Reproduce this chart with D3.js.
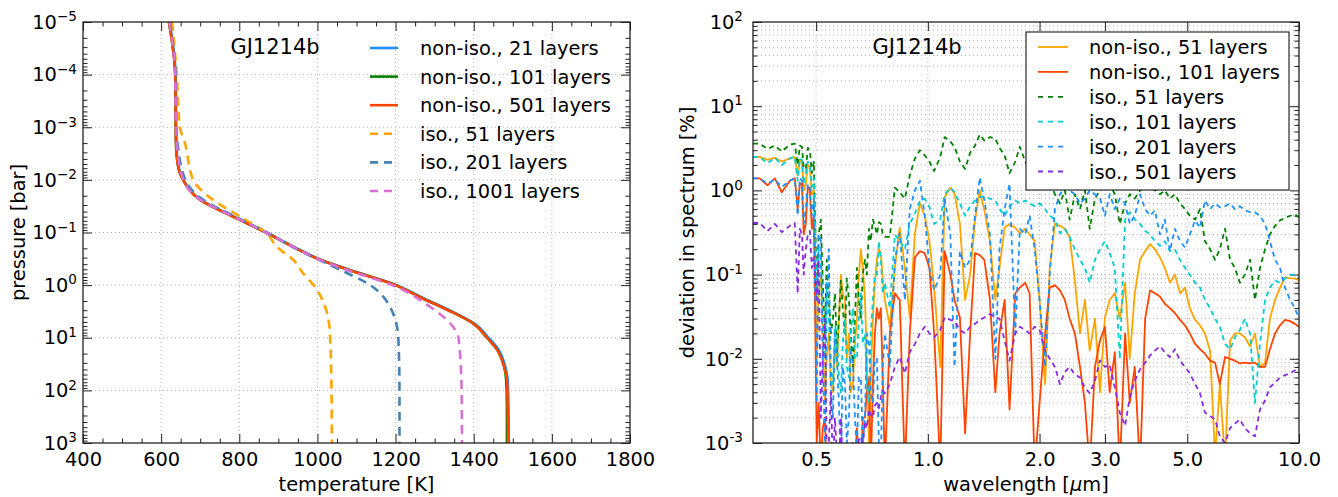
<!DOCTYPE html>
<html>
<head>
<meta charset="utf-8">
<script src="https://cdn.jsdelivr.net/npm/d3@7"></script>
<style>
  body { margin: 0; background: #fff; }
</style>
</head>
<body>
<svg id="chart" width="1338" height="497"></svg>
<script>
// ---------- left panel: temperature profiles (pressure in bar, temperature in K) ----------
const pNonIso = [1e-5, 1e-4, 2e-3, 5.8e-3, 0.01, 0.024, 0.05, 0.1, 0.2, 0.33, 0.5, 1, 1.7, 3, 5.5, 10, 17, 36, 63, 200, 1000];
const tNonIso21 = [622, 637, 639, 645, 657, 701, 786, 870, 947, 1009, 1078, 1203, 1266, 1338, 1404, 1438, 1464, 1481, 1487, 1489, 1490];
const tNonIso101 = [620, 636, 638, 644, 656, 700, 784, 868, 945, 1007, 1075, 1200, 1263, 1335, 1401, 1434, 1460, 1478, 1483, 1485, 1485];
const tNonIso501 = [620, 636, 638, 644, 656, 700, 784, 868, 945, 1007, 1075, 1200, 1263, 1335, 1401, 1434, 1460, 1478, 1485, 1487, 1488];

const pIso51 = [1e-5, 1e-4, 1e-3, 2e-3, 0.01, 0.024, 0.05, 0.1, 0.19, 0.33, 0.59, 1.09, 2.6, 8.2, 100, 1000];
const tIso51 = [628, 640, 648, 661, 682, 733, 802, 868, 897, 938, 963, 994, 1020, 1032, 1036, 1037];
const pIso201 = [1e-5, 1e-4, 1e-3, 2e-3, 0.01, 0.024, 0.05, 0.1, 0.2, 0.46, 1.0, 2.6, 10, 100, 1000];
const tIso201 = [622, 637, 639, 642, 662, 708, 790, 870, 943, 1045, 1135, 1186, 1207, 1210, 1210];
const pIso1001 = [1e-5, 1e-4, 1e-3, 2e-3, 0.01, 0.024, 0.05, 0.1, 0.2, 0.33, 0.5, 1, 2.6, 6.3, 10, 100, 1000];
const tIso1001 = [621, 636, 638, 640, 657, 701, 786, 868, 945, 1005, 1070, 1191, 1289, 1348, 1361, 1369, 1370];

const leftLabels = ["non-iso., 21 layers", "non-iso., 101 layers", "non-iso., 501 layers",
                    "iso., 51 layers", "iso., 201 layers", "iso., 1001 layers"];
const tempTicks = [400, 600, 800, 1000, 1200, 1400, 1600, 1800];
const pressTicks = [1e-5, 1e-4, 1e-3, 1e-2, 1e-1, 1e0, 1e1, 1e2, 1e3];

// ---------- right panel: deviation in spectrum [%] vs wavelength [um] ----------
const wavelength = [
  0.338, 0.352, 0.370, 0.387, 0.404, 0.425, 0.438,
  0.446, 0.452, 0.458, 0.463, 0.469, 0.475, 0.481, 0.487, 0.493,
  0.502, 0.508, 0.515, 0.521, 0.528, 0.534, 0.541, 0.548, 0.555, 0.562, 0.569, 0.576, 0.583, 0.590, 0.598, 0.605, 0.613,
  0.620, 0.628, 0.636, 0.644, 0.652, 0.660, 0.668, 0.677, 0.685, 0.694, 0.702, 0.711, 0.720, 0.729, 0.738, 0.747, 0.756, 0.766,
  0.790, 0.815, 0.840, 0.867, 0.894, 0.923, 0.952, 0.981, 1.01, 1.04,
  1.08, 1.11, 1.15, 1.18, 1.22, 1.26, 1.30, 1.34, 1.38, 1.42,
  1.47, 1.52, 1.56, 1.61, 1.66, 1.72, 1.77, 1.83, 1.88, 1.94,
  2.00, 2.07, 2.13, 2.20, 2.27, 2.34, 2.41, 2.49, 2.57, 2.65,
  2.73, 2.82, 2.91, 3.00, 3.09, 3.19, 3.29, 3.40, 3.50, 3.61,
  3.73, 3.85, 3.97, 4.09, 4.22, 4.35, 4.49, 4.63, 4.78, 4.93,
  5.08, 5.25, 5.41, 5.58, 5.76, 5.94, 6.12, 6.32, 6.52, 6.72,
  6.93, 7.15, 7.38, 7.61, 7.85, 8.10, 8.35, 8.62, 8.89, 9.17,
  9.46, 9.75, 10.0
];
const devNonIso51 = [
  2.5, 2.5, 2.3, 2.45, 2.2, 2.4, 2.5,
  1.5, 2.3, 2.2, 1.0, 1.2, 2.0, 1.9, 0.9, 1.0,
  0.01, 0.06, 0.1, 0.02, 0.003, 0.01, 0.02, 0.005, 0.004, 0.015, 0.008, 0.03, 0.1, 0.06, 0.05, 0.01, 0.02,
  0.004, 0.005, 0.015, 0.03, 0.1, 0.2, 0.12, 0.05, 0.01, 0.001, 0.006, 0.03, 0.08, 0.15, 0.2, 0.18, 0.09, 0.05,
  0.024, 0.12, 0.36, 0.12, 0.031, 0.31, 0.7, 0.5, 0.25, 0.07,
  0.008, 0.83, 1.08, 0.92, 0.4, 0.05, 0.1, 0.44, 1.0, 0.58,
  0.25, 0.05, 0.12, 0.36, 0.4, 0.36, 0.31, 0.35, 0.3, 0.25,
  0.05, 0.005, 0.12, 0.4, 0.38, 0.35, 0.28, 0.085, 0.02, 0.05,
  0.0125, 0.03, 0.004, 0.031, 0.05, 0.06, 0.03, 0.08, 0.01, 0.06,
  0.15, 0.19, 0.23, 0.2, 0.16, 0.12, 0.08, 0.1, 0.06, 0.07,
  0.04, 0.029, 0.025, 0.02, 0.0125, 0.0007, 0.005, 0.0006, 0.0165, 0.02,
  0.02, 0.018, 0.014, 0.02, 0.008, 0.009, 0.03, 0.05, 0.07, 0.093,
  0.09, 0.09, 0.085
];
const devNonIso101 = [
  1.39, 1.39, 1.15, 1.39, 0.95, 1.3, 1.39,
  0.6, 1.2, 1.2, 0.3, 0.4, 1.1, 1.0, 0.35, 0.5,
  0.001, 0.003, 0.0005, 0.0015, 0.002, 0.0005, 0.0005, 0.001, 0.001, 0.0005, 0.0005, 0.0008, 0.0006, 0.0005, 0.0005, 0.0009, 0.0008,
  0.0005, 0.001, 0.0005, 0.0015, 0.0005, 0.0005, 0.002, 0.002, 0.004, 0.006, 0.0005, 0.005, 0.02, 0.04, 0.03, 0.04, 0.006, 0.0005,
  0.02, 0.06, 0.05, 0.0005, 0.02, 0.16, 0.19, 0.18, 0.12, 0.02,
  0.0005, 0.19, 0.1, 0.05, 0.031, 0.0013, 0.02, 0.18, 0.17, 0.15,
  0.05, 0.004, 0.02, 0.05, 0.0025, 0.06, 0.07, 0.08, 0.06, 0.0005,
  0.003, 0.02, 0.07, 0.075, 0.065, 0.05, 0.03, 0.02, 0.008, 0.003,
  0.0005, 0.008, 0.0165, 0.024, 0.004, 0.012, 0.0005, 0.02, 0.003, 0.008,
  0.0005, 0.03, 0.065, 0.06, 0.055, 0.045, 0.04, 0.035, 0.029, 0.025,
  0.02, 0.015, 0.013, 0.0115, 0.0095, 0.009, 0.005, 0.0105, 0.01, 0.0095,
  0.0088, 0.009, 0.0088, 0.009, 0.008, 0.008, 0.013, 0.02, 0.025, 0.029,
  0.028, 0.026, 0.024
];
const devIso51 = [
  3.6, 3.6, 3.1, 3.4, 2.9, 3.5, 3.6,
  2.0, 3.4, 3.3, 1.8, 1.8, 3.2, 3.0, 1.6, 2.2,
  0.06, 0.3, 0.45, 0.08, 0.02, 0.15, 0.05, 0.02, 0.03, 0.06, 0.012, 0.03, 0.085, 0.04, 0.02, 0.09, 0.05,
  0.02, 0.008, 0.03, 0.12, 0.05, 0.03, 0.1, 0.15, 0.1, 0.35, 0.25, 0.45, 0.38, 0.3, 0.42, 0.4, 0.3, 0.28,
  0.28, 1.08, 0.95, 0.8, 1.5, 2.4, 3.0, 2.6, 2.2, 1.7,
  2.5, 4.3, 3.8, 3.3, 2.2, 1.8, 2.8, 3.4, 4.6, 3.9,
  4.3, 4.1, 3.2, 2.6, 1.6, 2.2, 3.3, 2.2, 1.8, 1.4,
  1.6, 1.2, 1.3, 0.9, 0.7, 1.0, 0.45, 0.9, 0.6, 1.0,
  0.35, 0.8, 1.0, 1.1, 1.2, 0.9, 0.4, 0.7, 0.9, 0.8,
  1.0, 1.1, 1.2, 1.0, 0.9, 1.0, 0.8, 0.9, 0.7, 0.6,
  0.5, 0.45, 0.6, 0.25, 0.2, 0.15, 0.2, 0.35, 0.15, 0.12,
  0.08, 0.1, 0.15, 0.05, 0.12, 0.2, 0.3, 0.38, 0.44, 0.47,
  0.5, 0.52, 0.48
];
const devIso101 = [
  2.5, 2.5, 2.1, 2.45, 2.0, 2.4, 2.5,
  1.3, 2.4, 2.3, 1.2, 1.6, 2.2, 2.0, 1.1, 1.4,
  0.05, 0.2, 0.15, 0.03, 0.01, 0.08, 0.03, 0.008, 0.005, 0.025, 0.02, 0.006, 0.004, 0.015, 0.03, 0.008, 0.006,
  0.02, 0.04, 0.01, 0.01, 0.03, 0.06, 0.015, 0.02, 0.005, 0.003, 0.02, 0.05, 0.1, 0.1, 0.25, 0.15, 0.06, 0.08,
  0.04, 0.3, 0.25, 0.2, 0.4, 0.53, 0.75, 0.8, 0.63, 0.4,
  0.45, 0.9, 1.08, 0.95, 0.7, 0.5, 0.65, 0.76, 0.83, 0.85,
  0.8, 0.76, 0.6, 0.5, 0.65, 0.76, 0.7, 0.76, 0.7, 0.65,
  0.7, 0.6, 0.5, 0.45, 0.31, 0.35, 0.28, 0.2, 0.15, 0.12,
  0.08, 0.15, 0.2, 0.25, 0.18, 0.12, 0.01, 0.45, 0.55, 0.45,
  0.4, 0.33, 0.3, 0.25, 0.22, 0.25, 0.19, 0.2, 0.15, 0.12,
  0.1, 0.08, 0.07, 0.05, 0.04, 0.03, 0.024, 0.015, 0.013, 0.018,
  0.022, 0.03, 0.02, 0.003, 0.015, 0.05, 0.07, 0.085, 0.08, 0.09,
  0.1, 0.1, 0.09
];
const devIso201 = [
  1.39, 1.39, 1.2, 1.35, 1.1, 1.3, 1.39,
  0.5, 1.4, 1.3, 0.4, 0.6, 1.2, 1.1, 0.5, 0.8,
  0.003, 0.3, 0.25, 0.01, 0.001, 0.05, 0.2, 0.004, 0.002, 0.02, 0.01, 0.003, 0.0005, 0.008, 0.005, 0.001, 0.002,
  0.012, 0.01, 0.002, 0.0008, 0.006, 0.006, 0.001, 0.002, 0.02, 0.015, 0.004, 0.003, 0.01, 0.01, 0.001, 0.0006, 0.008, 0.02,
  0.008, 0.15, 0.31, 0.05, 0.6, 1.0, 1.3, 0.5, 0.12, 0.065,
  0.1, 0.8, 0.3, 0.008, 0.19, 0.12, 0.15, 0.5, 1.43, 0.76,
  0.3, 0.01, 0.2, 0.6, 1.2, 0.02, 0.35, 0.3, 0.5, 0.2,
  0.05, 0.008, 0.1, 0.6, 0.9, 1.1, 1.0, 0.9, 0.7, 0.8,
  1.0, 0.9, 0.8, 0.5, 0.9, 0.6, 0.8, 0.7, 0.4, 0.5,
  0.9, 0.6, 0.5, 0.58, 0.3, 0.45, 0.19, 0.35, 0.25, 0.21,
  0.3, 0.44, 0.36, 0.76, 0.6, 0.7, 0.63, 0.65, 0.7, 0.6,
  0.65, 0.58, 0.55, 0.55, 0.5, 0.4, 0.25, 0.15, 0.12, 0.07,
  0.05, 0.04, 0.03
];
const devIso501 = [
  0.41, 0.41, 0.33, 0.4, 0.32, 0.38, 0.41,
  0.06, 0.35, 0.3, 0.1, 0.2, 0.3, 0.33, 0.12, 0.16,
  0.05, 0.15, 0.002, 0.01, 0.03, 0.0008, 0.001, 0.004, 0.0005, 0.002, 0.0007, 0.0005, 0.002, 0.0005, 0.0008, 0.0005, 0.0005,
  0.0006, 0.0005, 0.0009, 0.0007, 0.0011, 0.0012, 0.0009, 0.0018, 0.0015, 0.0025, 0.0022, 0.002, 0.0028, 0.003, 0.0026, 0.0035, 0.0042, 0.0039,
  0.005, 0.008, 0.0105, 0.0067, 0.012, 0.015, 0.02, 0.024, 0.02, 0.018,
  0.022, 0.031, 0.029, 0.028, 0.022, 0.02, 0.024, 0.026, 0.029, 0.031,
  0.034, 0.031, 0.03, 0.0165, 0.0095, 0.02, 0.024, 0.022, 0.02, 0.024,
  0.022, 0.0125, 0.01, 0.008, 0.005, 0.007, 0.008, 0.0065, 0.006, 0.0045,
  0.0039, 0.0055, 0.0096, 0.008, 0.0085, 0.0046, 0.0023, 0.0016, 0.0035, 0.0055,
  0.0075, 0.009, 0.011, 0.0125, 0.014, 0.012, 0.0105, 0.013, 0.0095, 0.008,
  0.0067, 0.005, 0.0039, 0.0023, 0.0021, 0.0019, 0.0012, 0.001, 0.0015, 0.0017,
  0.0019, 0.0015, 0.0013, 0.0012, 0.0025, 0.0032, 0.0046, 0.0052, 0.006, 0.0064,
  0.0067, 0.0073, 0.0065
];
const rightLabels = ["non-iso., 51 layers", "non-iso., 101 layers", "iso., 51 layers",
                     "iso., 101 layers", "iso., 201 layers", "iso., 501 layers"];
const waveTicks = [0.5, 1.0, 2.0, 3.0, 5.0, 10.0];
const devTicks = [1e-3, 1e-2, 1e-1, 1e0, 1e1, 1e2];

// ---------- drawing ----------
const FONT = "'DejaVu Sans', 'Bitstream Vera Sans', sans-serif";
const FS = 19.4;
const svg = d3.select("#chart").attr("font-family", FONT);

function logMinors(lo, hi) {
  const out = [];
  for (let e = lo; e < hi; e++) for (let m = 2; m <= 9; m++) out.push(m * Math.pow(10, e));
  return out;
}

// "10" with the exponent as a superscript
function supLabels(g, minus) {
  g.selectAll(".tick text").each(function (d) {
    const e = Math.round(Math.log10(d));
    const t = d3.select(this).text("10");
    t.append("tspan").attr("dy", "-0.55em").attr("font-size", "0.7em")
      .text(String(e).replace("-", minus));
  });
}

function styleAxis(g) {
  g.select(".domain").remove();
  g.attr("font-size", FS).attr("font-family", FONT).attr("color", "#222");
  g.selectAll(".tick line").attr("stroke-width", 1);
  g.selectAll(".tick text").attr("fill", "#000");
}

function drawFrame(x, y, cfg) {
  const [x0, x1] = x.range();
  const [y0, y1] = y.range();

  // dotted grid
  const grid = svg.append("g").attr("stroke", "#b5b5b5").attr("stroke-width", 1)
    .attr("stroke-dasharray", "1,3");
  grid.selectAll("line.gx").data(cfg.xGrid).join("line").attr("class", "gx")
    .attr("x1", d => x(d)).attr("x2", d => x(d)).attr("y1", y0).attr("y2", y1);
  grid.selectAll("line.gy").data(cfg.yGrid).join("line").attr("class", "gy")
    .attr("x1", x0).attr("x2", x1).attr("y1", d => y(d)).attr("y2", d => y(d));

  // ticks point inwards on all four sides
  const bottom = svg.append("g").attr("transform", `translate(0,${y1})`)
    .call(d3.axisBottom(x).tickValues(cfg.xMajor).tickSize(-9).tickPadding(9).tickFormat(cfg.xFormat));
  styleAxis(bottom);
  styleAxis(svg.append("g").attr("transform", `translate(0,${y0})`)
    .call(d3.axisTop(x).tickValues(cfg.xMajor).tickSize(-9).tickFormat("")));
  if (cfg.xMinor.length) {
    styleAxis(svg.append("g").attr("transform", `translate(0,${y1})`)
      .call(d3.axisBottom(x).tickValues(cfg.xMinor).tickSize(-4.5).tickFormat("")));
    styleAxis(svg.append("g").attr("transform", `translate(0,${y0})`)
      .call(d3.axisTop(x).tickValues(cfg.xMinor).tickSize(-4.5).tickFormat("")));
  }

  const left = svg.append("g").attr("transform", `translate(${x0},0)`)
    .call(d3.axisLeft(y).tickValues(cfg.yMajor).tickSize(-9).tickPadding(cfg.yPad));
  styleAxis(left);
  supLabels(left, cfg.minus);
  styleAxis(svg.append("g").attr("transform", `translate(${x1},0)`)
    .call(d3.axisRight(y).tickValues(cfg.yMajor).tickSize(-9).tickFormat("")));
  styleAxis(svg.append("g").attr("transform", `translate(${x0},0)`)
    .call(d3.axisLeft(y).tickValues(cfg.yMinor).tickSize(-4.5).tickFormat("")));
  styleAxis(svg.append("g").attr("transform", `translate(${x1},0)`)
    .call(d3.axisRight(y).tickValues(cfg.yMinor).tickSize(-4.5).tickFormat("")));

  // axis titles
  svg.append("text").attr("x", (x0 + x1) / 2).attr("y", 491).attr("text-anchor", "middle")
    .attr("font-size", FS).html(cfg.xTitle);
  svg.append("text").attr("transform", `translate(${cfg.yTitleX},${(y0 + y1) / 2}) rotate(-90)`)
    .attr("text-anchor", "middle").attr("font-size", FS).text(cfg.yTitle);
}

function addFrameRect(x, y) {
  const [x0, x1] = x.range();
  const [y0, y1] = y.range();
  svg.append("rect").attr("x", x0).attr("y", y0).attr("width", x1 - x0).attr("height", y1 - y0)
    .attr("fill", "none").attr("stroke", "#222").attr("stroke-width", 1.3);
}

function clipFor(id, x, y) {
  const [x0, x1] = x.range();
  const [y0, y1] = y.range();
  svg.append("clipPath").attr("id", id).append("rect")
    .attr("x", x0).attr("y", y0).attr("width", x1 - x0).attr("height", y1 - y0);
  return svg.append("g").attr("clip-path", `url(#${id})`);
}

// ===== left panel =====
const tScale = d3.scaleLinear().domain([400, 1800]).range([83, 630]);
const pScale = d3.scaleLog().domain([1e-5, 1e3]).range([22, 443]);

drawFrame(tScale, pScale, {
  xGrid: tempTicks.slice(1, -1), yGrid: pressTicks.slice(1, -1),
  xMajor: tempTicks, xMinor: d3.range(450, 1800, 50).filter(v => v % 200 !== 0),
  yMajor: pressTicks, yMinor: logMinors(-5, 3), yPad: 6, minus: "\u2212",
  xFormat: d3.format("d"), xTitle: "temperature [K]",
  yTitle: "pressure [bar]", yTitleX: 25
});

const leftSeries = [
  { p: pNonIso, t: tNonIso21, color: "#1e90ff", dash: null },
  { p: pNonIso, t: tNonIso101, color: "#008000", dash: null },
  { p: pNonIso, t: tNonIso501, color: "#ff4500", dash: null },
  { p: pIso51, t: tIso51, color: "#ffa500", dash: "9,6" },
  { p: pIso201, t: tIso201, color: "#4682b4", dash: "9,6" },
  { p: pIso1001, t: tIso1001, color: "#da70d6", dash: "9,6" }
];
const profileLine = d3.line().x(d => tScale(d[1])).y(d => pScale(d[0])).curve(d3.curveMonotoneY);
const leftPlot = clipFor("clipL", tScale, pScale);
leftSeries.forEach(s => {
  leftPlot.append("path").datum(d3.zip(s.p, s.t)).attr("d", profileLine)
    .attr("fill", "none").attr("stroke", s.color).attr("stroke-width", 2.6)
    .attr("stroke-dasharray", s.dash);
});
addFrameRect(tScale, pScale);

svg.append("text").attr("x", 275).attr("y", 54).attr("text-anchor", "middle")
  .attr("font-size", 21).text("GJ1214b");

const legL = svg.append("g");
leftSeries.forEach((s, i) => {
  const yy = 48 + i * 28.6;
  legL.append("line").attr("x1", 370).attr("x2", 398).attr("y1", yy).attr("y2", yy)
    .attr("stroke", s.color).attr("stroke-width", 2.6).attr("stroke-dasharray", s.dash ? "8,6" : null);
  legL.append("text").attr("x", 420).attr("y", yy + 7).attr("font-size", FS).text(leftLabels[i]);
});

// ===== right panel =====
const wScale = d3.scaleLog().domain([0.338, 10]).range([753, 1299]);
const dScale = d3.scaleLog().domain([1e2, 1e-3]).range([22, 443]);

drawFrame(wScale, dScale, {
  xGrid: waveTicks.slice(0, -1), yGrid: devTicks.slice(1, -1).concat(logMinors(-3, 2)),
  xMajor: waveTicks, xMinor: [],
  yMajor: devTicks, yMinor: logMinors(-3, 2), yPad: 10, minus: "-",
  xFormat: d3.format(".1f"), xTitle: "wavelength [<tspan font-style='italic'>\u03bc</tspan>m]",
  yTitle: "deviation in spectrum [%]", yTitleX: 694
});

const rightSeries = [
  { v: devNonIso51, color: "#ffa500", dash: null },
  { v: devNonIso101, color: "#ff4500", dash: null },
  { v: devIso51, color: "#008000", dash: "5,4" },
  { v: devIso101, color: "#00ced1", dash: "5,4" },
  { v: devIso201, color: "#1e90ff", dash: "5,4" },
  { v: devIso501, color: "#8a2be2", dash: "5,4" }
];
const specLine = d3.line().x(d => wScale(d[0])).y(d => dScale(d[1]));
const rightPlot = clipFor("clipR", wScale, dScale);
rightSeries.forEach(s => {
  rightPlot.append("path").datum(d3.zip(wavelength, s.v)).attr("d", specLine)
    .attr("fill", "none").attr("stroke", s.color).attr("stroke-width", 1.8)
    .attr("stroke-linejoin", "round").attr("stroke-dasharray", s.dash);
});
addFrameRect(wScale, dScale);

svg.append("text").attr("x", 917).attr("y", 54).attr("text-anchor", "middle")
  .attr("font-size", 21).text("GJ1214b");

const legR = svg.append("g");
legR.append("rect").attr("x", 1026).attr("y", 32).attr("width", 263).attr("height", 158)
  .attr("fill", "#fff").attr("stroke", "#000").attr("stroke-width", 1);
rightSeries.forEach((s, i) => {
  const yy = 47 + i * 24.9;
  legR.append("line").attr("x1", 1038).attr("x2", 1068).attr("y1", yy).attr("y2", yy)
    .attr("stroke", s.color).attr("stroke-width", 1.8).attr("stroke-dasharray", s.dash ? "5,5" : null);
  legR.append("text").attr("x", 1089).attr("y", yy + 7).attr("font-size", FS).text(rightLabels[i]);
});
</script>
</body>
</html>
